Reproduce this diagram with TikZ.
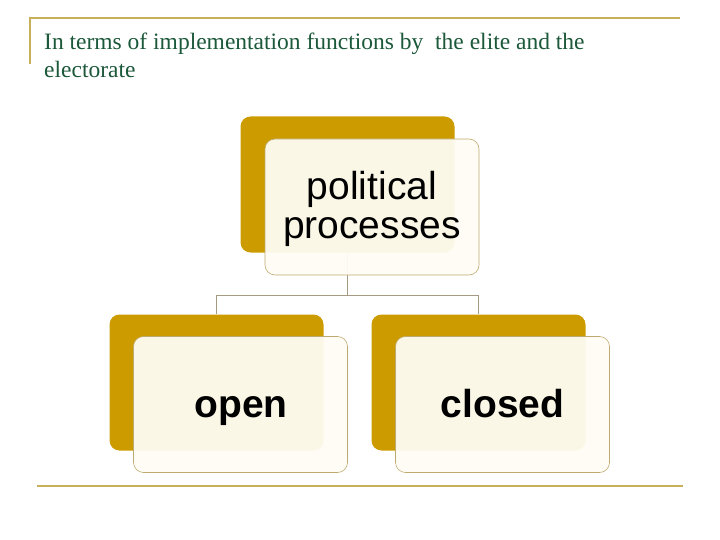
\documentclass[tikz,border=0pt]{standalone}
\usepackage{fontspec}
\setmainfont{Liberation Serif}
\setsansfont{Liberation Sans}
\definecolor{gold}{RGB}{204,155,0}
\definecolor{rule}{RGB}{200,175,90}
\definecolor{cream}{RGB}{254,252,244}
\definecolor{edgeol}{RGB}{190,170,110}
\definecolor{titlegreen}{RGB}{28,88,58}
\definecolor{conn}{RGB}{165,155,130}
\tikzset{
  backbox/.style={fill=gold, draw=none, rounded corners=10pt, minimum width=214pt, minimum height=136pt, inner sep=0pt},
  frontbox/.style={fill=cream, fill opacity=0.95, draw=edgeol, line width=0.6pt, rounded corners=10pt, minimum width=214pt, minimum height=136pt, inner sep=0pt},
  boxtext/.style={anchor=base, inner sep=0pt, font=\sffamily\fontsize{39}{41}\selectfont},
  boldtext/.style={boxtext, font=\sffamily\bfseries\fontsize{39}{41}\selectfont},
  titletext/.style={anchor=base west, inner sep=0pt, text=titlegreen, font=\fontsize{23.5}{28}\selectfont},
  connector/.style={draw=conn, line width=0.8pt},
  ruleline/.style={draw=rule, line width=2pt}
}
\begin{document}
\begin{tikzpicture}[x=1pt,y=-1pt]
\useasboundingbox (0,0) rectangle (720,540);
% rules
\coordinate (r1) at (30,18);
\coordinate (r2) at (680,18);
\coordinate (r3) at (30,64);
\coordinate (r4) at (37,486);
\coordinate (r5) at (683,486);
\draw[ruleline] (r3) -- (r1) -- (r2);
\draw[ruleline] (r4) -- (r5);
% title
\node[titletext] (t1) at (44,50) {In terms of implementation functions by\ \ the elite and the};
\node[titletext] (t2) at (44,78) {electorate};
% back boxes
\node[backbox] (tb) at (347.5,184.5) {};
\node[backbox] (lb) at (216.5,382.5) {};
\node[backbox] (rb) at (478.5,382.5) {};
% connectors
\coordinate (j) at (347.5,295);
\draw[connector] (tb.south) -- (j);
\draw[connector] (j) -| (lb.north);
\draw[connector] (j) -| (rb.north);
% front boxes
\node[frontbox] (tf) at (372,207) {};
\node[frontbox] (lf) at (240.5,404.5) {};
\node[frontbox] (rf) at (502.5,404.5) {};
% texts
\node[boxtext] (tx1) at (372,200) {political};
\node[boxtext] (tx2) at (372,238) {processes};
\node[boldtext] (lx) at (241,417) {open};
\node[boldtext] (rx) at (502.5,417) {closed};
\end{tikzpicture}
\end{document}
